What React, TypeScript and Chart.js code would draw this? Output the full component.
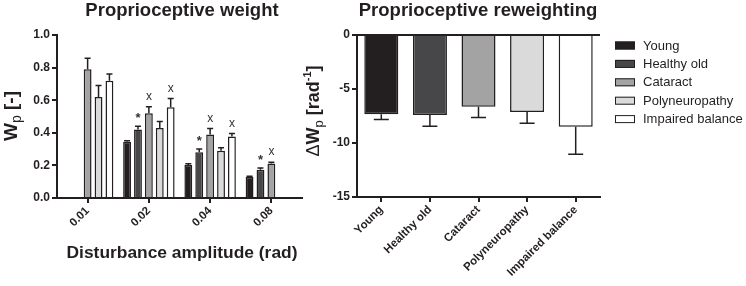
import React, { useEffect, useRef } from 'react';
import { Chart, registerables } from 'chart.js';

Chart.register(...registerables);

const FONT = "Arial, 'Liberation Sans', Helvetica, sans-serif";
const DARK = '#231f20';

// ---- Data ----
const amplitudes = ['0.01', '0.02', '0.04', '0.08'];
const groups = ['Young', 'Healthy old', 'Cataract', 'Polyneuropathy', 'Impaired balance'];
const groupColors = ['#231f20', '#47474a', '#a3a3a3', '#dadada', '#ffffff'];

const youngWp = [null, 0.345, 0.202, 0.13];
const youngWpErr = [null, 0.006, 0.008, 0.004];
const healthyOldWp = [null, 0.42, 0.28, 0.173];
const healthyOldWpErr = [null, 0.02, 0.02, 0.011];
const cataractWp = [0.79, 0.52, 0.39, 0.212];
const cataractWpErr = [0.068, 0.04, 0.037, 0.008];
const polyWp = [0.62, 0.43, 0.29, null];
const polyWpErr = [0.07, 0.04, 0.018, null];
const impairedWp = [0.72, 0.557, 0.378, null];
const impairedWpErr = [0.04, 0.053, 0.018, null];

const healthyOldMarks = ['', '*', '*', '*'];
const cataractMarks = ['', 'x', 'x', 'x'];
const impairedMarks = ['', 'x', 'x', ''];

const reweighting = [-7.33, -7.4, -6.65, -7.12, -8.5];
const reweightingErr = [0.5, 1.05, 1.0, 1.05, 2.55];

const wpTicks = [0, 0.2, 0.4, 0.6, 0.8, 1.0];
const dwTicks = [0, -5, -10, -15];

// ---- Helpers ----
type Seg = { t: string; size: number; bold?: boolean; dy?: number };

function fontStr(size: number, bold?: boolean) {
  return `${bold ? 'bold ' : ''}${size}px ${FONT}`;
}

function drawSegs(ctx: CanvasRenderingContext2D, segs: Seg[], x: number, y: number, rot: number) {
  ctx.save();
  ctx.translate(x, y);
  ctx.rotate(rot);
  let total = 0;
  const widths = segs.map((s) => {
    ctx.font = fontStr(s.size, s.bold);
    const w = ctx.measureText(s.t).width;
    total += w;
    return w;
  });
  let cx = -total / 2;
  ctx.fillStyle = DARK;
  ctx.textBaseline = 'alphabetic';
  ctx.textAlign = 'left';
  segs.forEach((s, i) => {
    ctx.font = fontStr(s.size, s.bold);
    ctx.fillText(s.t, cx, s.dy || 0);
    cx += widths[i];
  });
  ctx.restore();
}

function drawCentered(ctx: CanvasRenderingContext2D, text: string, x: number, y: number, size: number, bold: boolean) {
  ctx.save();
  ctx.font = fontStr(size, bold);
  ctx.fillStyle = DARK;
  ctx.textAlign = 'center';
  ctx.textBaseline = 'alphabetic';
  ctx.fillText(text, x, y);
  ctx.restore();
}

const errorPlugin = {
  id: 'errbars',
  afterDatasetsDraw(chart: any) {
    const ctx: CanvasRenderingContext2D = chart.ctx;
    const yScale = chart.scales.y;
    chart.data.datasets.forEach((ds: any, di: number) => {
      const meta = chart.getDatasetMeta(di);
      const errs = ds.errors as (number | null)[] | undefined;
      const marks = ds.marks as string[] | undefined;
      const cap = ds.capHalf || 3;
      meta.data.forEach((el: any, i: number) => {
        const v = ds.data[i];
        if (v == null) return;
        const e = errs ? errs[i] : null;
        let endY = el.y;
        if (e) {
          const sign = v < 0 ? -1 : 1;
          endY = yScale.getPixelForValue(v + sign * e);
          ctx.save();
          ctx.strokeStyle = DARK;
          ctx.lineWidth = 1.5;
          ctx.beginPath();
          ctx.moveTo(el.x, el.y);
          ctx.lineTo(el.x, endY);
          ctx.moveTo(el.x - cap, endY);
          ctx.lineTo(el.x + cap, endY);
          ctx.stroke();
          ctx.restore();
        }
        const m = marks ? marks[i] : '';
        if (m) {
          ctx.save();
          ctx.fillStyle = '#333';
          ctx.textAlign = 'center';
          ctx.textBaseline = 'alphabetic';
          if (m === '*') {
            const size = 13;
            ctx.font = fontStr(size, true);
            const center = endY - 11.5;
            ctx.fillText(m, el.x, center + 0.58 * size);
          } else {
            const size = 12;
            ctx.font = fontStr(size, false);
            const center = endY - 10;
            ctx.fillText(m, el.x, center + 0.26 * size);
          }
          ctx.restore();
        }
      });
    });
  },
};

const leftDecor = {
  id: 'leftDecor',
  afterDraw(chart: any) {
    const ctx: CanvasRenderingContext2D = chart.ctx;
    drawCentered(ctx, 'Proprioceptive weight', 182, 16, 18.5, true);
    drawCentered(ctx, 'Disturbance amplitude (rad)', 182, 258, 17.4, true);
    drawSegs(
      ctx,
      [
        { t: 'W', size: 19, bold: true },
        { t: 'p', size: 14, bold: false, dy: 4 },
        { t: ' [-]', size: 19, bold: true },
      ],
      17,
      116,
      -Math.PI / 2
    );
  },
};

const rightDecor = {
  id: 'rightDecor',
  afterDraw(chart: any) {
    const ctx: CanvasRenderingContext2D = chart.ctx;
    drawCentered(ctx, 'Proprioceptive reweighting', 178, 16, 18.5, true);
    drawSegs(
      ctx,
      [
        { t: 'Δ', size: 18, bold: false },
        { t: 'W', size: 18, bold: true },
        { t: 'p', size: 13, bold: false, dy: 4 },
        { t: ' [rad', size: 18, bold: true },
        { t: '-1', size: 11, bold: true, dy: -8 },
        { t: ']', size: 18, bold: true },
      ],
      19,
      111,
      -Math.PI / 2
    );
    // legend
    ctx.save();
    groups.forEach((g, i) => {
      const cy = 45.5 + i * 18.4;
      ctx.fillStyle = groupColors[i];
      ctx.fillRect(315, cy - 4, 20, 8);
      ctx.strokeStyle = DARK;
      ctx.lineWidth = 1;
      ctx.strokeRect(315.5, cy - 3.5, 19, 7);
      ctx.fillStyle = DARK;
      ctx.font = fontStr(13, false);
      ctx.textAlign = 'left';
      ctx.textBaseline = 'middle';
      ctx.fillText(g, 343, cy + 0.5);
    });
    ctx.restore();
  },
};

const tickFont = { family: FONT, size: 12, weight: 'bold' as const };
const xTickFont = { family: FONT, size: 11.5, weight: 'bold' as const };

export default function App() {
  const leftRef = useRef<HTMLCanvasElement>(null);
  const rightRef = useRef<HTMLCanvasElement>(null);

  useEffect(() => {
    const seriesWp = [youngWp, healthyOldWp, cataractWp, polyWp, impairedWp];
    const seriesErr = [youngWpErr, healthyOldWpErr, cataractWpErr, polyWpErr, impairedWpErr];
    const seriesMarks = [null, healthyOldMarks, cataractMarks, null, impairedMarks];

    const left = new Chart(leftRef.current!, {
      type: 'bar',
      data: {
        labels: amplitudes,
        datasets: groups.map((g, i) => ({
          label: g,
          data: seriesWp[i] as any,
          backgroundColor: groupColors[i],
          borderColor: DARK,
          borderWidth: 1.5,
          errors: seriesErr[i],
          marks: seriesMarks[i] || undefined,
          capHalf: 3,
        })) as any,
      },
      options: {
        responsive: false,
        animation: false,
        devicePixelRatio: 1,
        layout: { padding: { left: 0, right: 8, top: 35, bottom: 0 } },
        plugins: { legend: { display: false }, tooltip: { enabled: false }, title: { display: false } },
        datasets: { bar: { categoryPercentage: 0.89, barPercentage: 0.72 } },
        scales: {
          x: {
            offset: true,
            grid: { offset: false, drawOnChartArea: false, drawTicks: true, tickLength: 5, color: DARK, lineWidth: 2 },
            border: { display: true, color: DARK, width: 2 },
            ticks: { maxRotation: 45, minRotation: 45, color: DARK, font: xTickFont, padding: 1 },
            afterFit: (s: any) => {
              s.height = 88;
            },
          },
          y: {
            min: 0,
            max: 1,
            afterBuildTicks: (s: any) => {
              s.ticks = wpTicks.map((v) => ({ value: v }));
            },
            ticks: { color: DARK, font: tickFont, padding: 2, callback: (v: any) => Number(v).toFixed(1) },
            grid: { drawOnChartArea: false, tickLength: 5, color: DARK, lineWidth: 2 },
            border: { display: true, color: DARK, width: 2 },
            afterFit: (s: any) => {
              s.width = 57;
            },
          },
        },
      } as any,
      plugins: [errorPlugin, leftDecor],
    });

    const right = new Chart(rightRef.current!, {
      type: 'bar',
      data: {
        labels: groups,
        datasets: [
          {
            label: 'Reweighting',
            data: reweighting,
            backgroundColor: groupColors,
            borderColor: DARK,
            borderWidth: 1.5,
            errors: reweightingErr,
            capHalf: 7.5,
          } as any,
        ],
      },
      options: {
        responsive: false,
        animation: false,
        devicePixelRatio: 1,
        layout: { padding: { left: 0, right: 146, top: 35, bottom: 0 } },
        plugins: { legend: { display: false }, tooltip: { enabled: false }, title: { display: false } },
        datasets: { bar: { categoryPercentage: 0.8, barPercentage: 0.875 } },
        scales: {
          x: {
            offset: true,
            grid: { offset: false, drawOnChartArea: false, drawTicks: true, tickLength: 5, color: DARK, lineWidth: 2 },
            border: { display: true, color: DARK, width: 2 },
            ticks: { maxRotation: 45, minRotation: 45, color: DARK, font: xTickFont, padding: 1 },
            afterFit: (s: any) => {
              s.height = 89;
            },
          },
          y: {
            min: -15,
            max: 0,
            afterBuildTicks: (s: any) => {
              s.ticks = dwTicks.map((v) => ({ value: v }));
            },
            ticks: { color: DARK, font: tickFont, padding: 2 },
            grid: {
              drawOnChartArea: true,
              tickLength: 5,
              color: (c: any) => (c.tick && c.tick.value === 0 ? DARK : 'rgba(0,0,0,0)'),
              tickColor: DARK,
              lineWidth: 2,
            },
            border: { display: true, color: DARK, width: 2 },
            afterFit: (s: any) => {
              s.width = 57;
            },
          },
        },
      } as any,
      plugins: [errorPlugin, rightDecor],
    });

    return () => {
      left.destroy();
      right.destroy();
    };
  }, []);

  return (
    <div style={{ position: 'absolute', left: 0, top: 0, width: 746, height: 286, background: '#fff', overflow: 'hidden' }}>
      <canvas
        ref={leftRef}
        width={310}
        height={286}
        style={{ position: 'absolute', left: 0, top: 0, width: 310, height: 286 }}
      />
      <canvas
        ref={rightRef}
        width={446}
        height={286}
        style={{ position: 'absolute', left: 300, top: 0, width: 446, height: 286 }}
      />
    </div>
  );
}
